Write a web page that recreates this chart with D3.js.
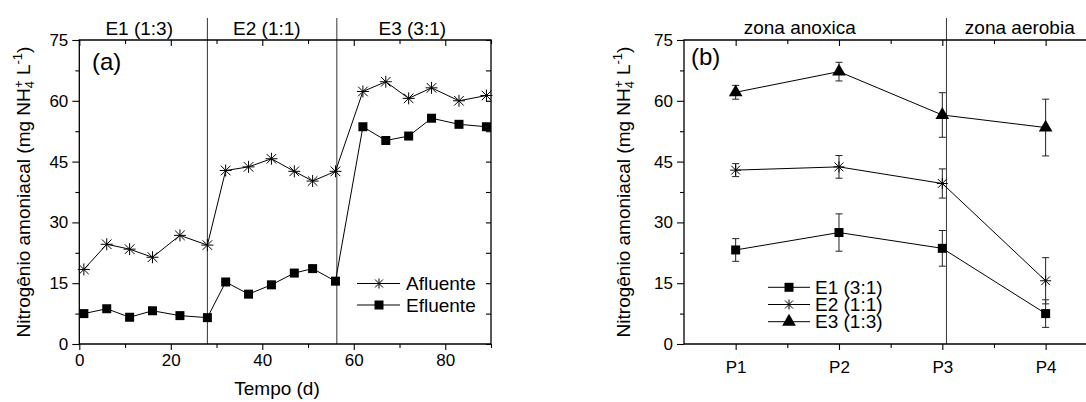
<!DOCTYPE html>
<html>
<head>
<meta charset="utf-8">
<script src="https://cdn.jsdelivr.net/npm/d3@7"></script>
<style>
  html, body { margin: 0; padding: 0; background: #fff; }
  text { font-family: "Liberation Sans", Arial, sans-serif; fill: #000; }
</style>
</head>
<body>
<svg id="chart" width="1086" height="402"></svg>
<script>
// --- panel (a): concentration over time ---
const dias = [1, 6, 11, 16, 22, 28, 32, 37, 42, 47, 51, 56, 62, 67, 72, 77, 83, 89];
const afluente = [18.4, 24.6, 23.4, 21.4, 26.8, 24.4, 42.8, 43.7, 45.7, 42.6, 40.2, 42.6, 62.3, 64.7, 60.6, 63.2, 60.0, 61.3];
const efluente = [7.5, 8.7, 6.6, 8.2, 7.0, 6.5, 15.3, 12.3, 14.6, 17.5, 18.6, 15.5, 53.6, 50.2, 51.3, 55.7, 54.2, 53.6];
const etapas = ["E1 (1:3)", "E2 (1:1)", "E3 (3:1)"];
const etapaLimites = [28, 56.3];
const etapaCentros = [13.1, 41, 72.8];

// --- panel (b): concentration along the reactor ---
const pontos = ["P1", "P2", "P3", "P4"];
const e1 = [23.2, 27.5, 23.6, 7.5];
const e1Erro = [2.8, 4.6, 4.4, 3.4];
const e2 = [42.9, 43.7, 39.6, 15.6];
const e2Erro = [1.6, 2.8, 3.6, 5.7];
const e3 = [62.1, 67.2, 56.5, 53.4];
const e3Erro = [1.7, 2.3, 5.5, 7.0];
const zonas = ["zona anoxica", "zona aerobia"];
const zonaLimite = 3.04;
const zonaCentros = [1.62, 3.75];

const yTicks = [0, 15, 30, 45, 60, 75];
const yMinor = [7.5, 22.5, 37.5, 52.5, 67.5];

const svg = d3.select("#chart");
svg.append("rect").attr("width", 1086).attr("height", 402).attr("fill", "#fff");

const TOP = 40, BOTTOM = 344;

// star marker: vertical + horizontal + two diagonals
function starPath(r) {
  const d = r * 0.8;
  return `M0,${-r}V${r}M${-r},0H${r}M${-d},${-d}L${d},${d}M${-d},${d}L${d},${-d}`;
}

function addMarker(g, kind, x, y, size) {
  if (kind === "star") {
    g.append("path").attr("d", starPath(size / 2))
      .attr("transform", `translate(${x},${y})`)
      .attr("fill", "none").attr("stroke", "#000").attr("stroke-width", 1);
  } else if (kind === "square") {
    g.append("path").attr("d", d3.symbol(d3.symbolSquare, size * size)())
      .attr("transform", `translate(${x},${y})`).attr("fill", "#000");
  } else {
    g.append("path").attr("d", d3.symbol(d3.symbolTriangle, size * size * 0.48)())
      .attr("transform", `translate(${x},${y})`).attr("fill", "#000");
  }
}

function yLabel(g, x, y) {
  const t = g.append("text")
    .attr("transform", `translate(${x},${y}) rotate(-90)`)
    .attr("text-anchor", "middle")
    .style("font-size", "19px");
  t.append("tspan").text("Nitrogênio amoniacal (mg NH");
  t.append("tspan").text("4").style("font-size", "13px").attr("dy", 4);
  t.append("tspan").text("+").style("font-size", "13px").attr("dy", -11).attr("dx", -7);
  t.append("tspan").text(" L").attr("dy", 7);
  t.append("tspan").text("-1").style("font-size", "13px").attr("dy", -8);
  t.append("tspan").text(")").attr("dy", 8);
}

// draws the frame: labelled left/bottom axes, inward mirrored ticks on top/right
function drawFrame(g, x, y, xTicks, xMinor, xFormat, xLabelOffset) {
  const left = x.range()[0], right = x.range()[1];

  g.append("g").attr("transform", `translate(${left},0)`)
    .call(d3.axisLeft(y).tickValues(yTicks).tickSize(7).tickPadding(4).tickSizeOuter(0));
  g.append("g").attr("transform", `translate(${left},0)`)
    .call(d3.axisLeft(y).tickValues(yMinor).tickSize(4).tickFormat("").tickSizeOuter(0));
  g.append("g").attr("transform", `translate(${right},0)`)
    .call(d3.axisLeft(y).tickValues(yTicks.concat(yMinor)).tickSize(5).tickFormat("").tickSizeOuter(0));

  g.append("g").attr("transform", `translate(0,${BOTTOM})`)
    .call(d3.axisBottom(x).tickValues(xTicks).tickFormat(xFormat).tickSize(6).tickPadding(xLabelOffset).tickSizeOuter(0));
  g.append("g").attr("transform", `translate(0,${BOTTOM})`)
    .call(d3.axisBottom(x).tickValues(xMinor).tickSize(4).tickFormat("").tickSizeOuter(0));
  g.append("g").attr("transform", `translate(0,${TOP})`)
    .call(d3.axisBottom(x).tickValues(xTicks).tickSize(6).tickFormat("").tickSizeOuter(0));
  g.append("g").attr("transform", `translate(0,${TOP})`)
    .call(d3.axisBottom(x).tickValues(xMinor).tickSize(4).tickFormat("").tickSizeOuter(0));

  // frame lines
  g.append("path")
    .attr("d", `M${left},${TOP}H${right}V${BOTTOM}H${left}Z`)
    .attr("fill", "none").attr("stroke", "#000").attr("stroke-width", 1.3);

  g.selectAll(".domain").remove();
  g.selectAll(".tick line").attr("stroke", "#000").attr("stroke-width", 1.1);
  g.selectAll(".tick text").style("font-size", "17px")
    .style("font-family", '"Liberation Sans", Arial, sans-serif');
}

// ---------- panel (a) ----------
const gA = svg.append("g");
const xA = d3.scaleLinear().domain([0, 90]).range([79.3, 491]);
const yA = d3.scaleLinear().domain([0, 75]).range([BOTTOM, TOP]);

etapaLimites.forEach(v => {
  gA.append("line").attr("x1", xA(v)).attr("x2", xA(v)).attr("y1", 18).attr("y2", BOTTOM)
    .attr("stroke", "#333").attr("stroke-width", 1);
});
etapas.forEach((t, i) => {
  gA.append("text").attr("x", xA(etapaCentros[i])).attr("y", 35)
    .attr("text-anchor", "middle").style("font-size", "19px").text(t);
});

const lineA = d3.line().x(d => xA(d[0])).y(d => yA(d[1]));
[[afluente, "star"], [efluente, "square"]].forEach(([serie, kind]) => {
  const pts = dias.map((d, i) => [d, serie[i]]);
  gA.append("path").attr("d", lineA(pts)).attr("fill", "none")
    .attr("stroke", "#000").attr("stroke-width", 1);
  pts.forEach(p => addMarker(gA, kind, xA(p[0]), yA(p[1]), kind === "star" ? 12 : 9));
});

drawFrame(gA, xA, yA, [0, 20, 40, 60, 80], [10, 30, 50, 70, 90], d3.format("d"), 4);

gA.append("text").attr("x", 92).attr("y", 70).style("font-size", "24px").text("(a)");
gA.append("text").attr("x", 277).attr("y", 395).attr("text-anchor", "middle")
  .style("font-size", "19px").text("Tempo (d)");
yLabel(gA, 30, 192);

// legend (a)
[["Afluente", "star", 283.5], ["Efluente", "square", 305]].forEach(([nome, kind, ly]) => {
  gA.append("line").attr("x1", 357).attr("x2", 400).attr("y1", ly).attr("y2", ly)
    .attr("stroke", "#000").attr("stroke-width", 1);
  addMarker(gA, kind, 379, ly, kind === "star" ? 10 : 9);
  gA.append("text").attr("x", 406).attr("y", ly).attr("dy", "0.35em")
    .style("font-size", "19px").text(nome);
});

// ---------- panel (b) ----------
const gB = svg.append("g");
const xB = d3.scaleLinear().domain([0.5, 4.5]).range([684, 1097.3]);
const yB = d3.scaleLinear().domain([0, 75]).range([BOTTOM, TOP]);

gB.append("line").attr("x1", xB(zonaLimite)).attr("x2", xB(zonaLimite))
  .attr("y1", 18).attr("y2", BOTTOM).attr("stroke", "#333").attr("stroke-width", 1);
zonas.forEach((t, i) => {
  gB.append("text").attr("x", xB(zonaCentros[i])).attr("y", 33.5)
    .attr("text-anchor", "middle").style("font-size", "19px").text(t);
});

const seriesB = [
  { nome: "E1 (3:1)", valores: e1, erro: e1Erro, kind: "square", size: 9 },
  { nome: "E2 (1:1)", valores: e2, erro: e2Erro, kind: "star", size: 11 },
  { nome: "E3 (1:3)", valores: e3, erro: e3Erro, kind: "triangle", size: 13 }
];
const lineB = d3.line().x(d => xB(d[0])).y(d => yB(d[1]));

seriesB.forEach(s => {
  const pts = s.valores.map((v, i) => [i + 1, v, s.erro[i]]);
  // error bars
  pts.forEach(p => {
    const cx = xB(p[0]), y1 = yB(p[1] + p[2]), y2 = yB(p[1] - p[2]);
    gB.append("path")
      .attr("d", `M${cx},${y1}V${y2}M${cx - 3.5},${y1}H${cx + 3.5}M${cx - 3.5},${y2}H${cx + 3.5}`)
      .attr("fill", "none").attr("stroke", "#222").attr("stroke-width", 1);
  });
  gB.append("path").attr("d", lineB(pts)).attr("fill", "none")
    .attr("stroke", "#000").attr("stroke-width", 1);
  pts.forEach(p => addMarker(gB, s.kind, xB(p[0]), yB(p[1]), s.size));
});

drawFrame(gB, xB, yB, [1, 2, 3, 4], [1.5, 2.5, 3.5], (d, i) => pontos[i], 11);

gB.append("text").attr("x", 691).attr("y", 65).style("font-size", "24px").text("(b)");
yLabel(gB, 630, 192);

// legend (b)
seriesB.forEach((s, i) => {
  const ly = 287.3 + i * 17.2;
  gB.append("line").attr("x1", 768).attr("x2", 810).attr("y1", ly).attr("y2", ly)
    .attr("stroke", "#000").attr("stroke-width", 1);
  addMarker(gB, s.kind, 789, ly, s.kind === "star" ? 10 : s.size);
  gB.append("text").attr("x", 815).attr("y", ly).attr("dy", "0.35em")
    .style("font-size", "19px").text(s.nome);
});
</script>
</body>
</html>
